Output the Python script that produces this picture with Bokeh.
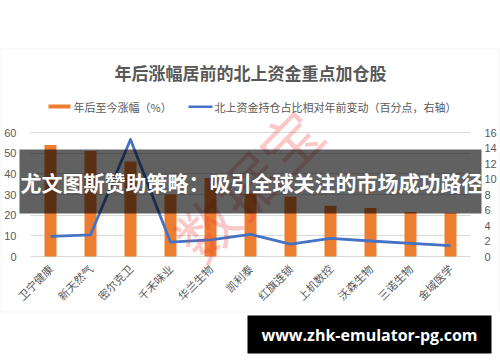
import math

from bokeh.embed import file_html
from bokeh.models import (BoxAnnotation, CategoricalAxis, ColumnDataSource, FactorRange,
                          FixedTicker, Grid, Label, LinearAxis, Range1d)
from bokeh.plotting import figure
from bokeh.resources import INLINE

# --- data -------------------------------------------------------------------
categories = ["卫宁健康", "新天然气", "密尔克卫", "千禾味业", "华兰生物", "凯利泰",
              "红旗连锁", "上机数控", "沃森生物", "三诺生物", "金域医学"]
gain_pct = [54, 51, 46, 30, 38, 30.5, 29, 24.5, 23.5, 21.5, 21]          # 年后至今涨幅（%）
holding_change = [2.6, 2.8, 15.1, 1.85, 2.15, 2.85, 1.6, 2.35, 2.0, 1.7, 1.4]  # 百分点，右轴
left_ticks = [0, 10, 20, 30, 40, 50, 60]
right_ticks = [0, 2, 4, 6, 8, 10, 12, 14, 16]

title_text = "年后涨幅居前的北上资金重点加仓股"
legend_bar = "年后至今涨幅（%）"
legend_line = "北上资金持仓占比相对年前变动（百分点，右轴）"
banner_text = "尤文图斯赞助策略：吸引全球关注的市场成功路径"
url_text = "www.zhk-emulator-pg.com"
stamp_text = "数据宝"

ORANGE = "#ED7D31"
BLUE = "#4472C4"
GREY_TXT = "#595959"
GRID = "#D9D9D9"
CJK = "Noto Sans CJK SC"

W, H = 500, 362
# plot area on the canvas: x 30..470, y 132 (top) .. 256 (bottom)
PX0, PX1, PY_TOP, PY_BOT = 30, 470, 132, 256

n = len(categories)
cat_px = (PX1 - PX0) / n
pad = PX0 / cat_px                       # categories of padding on each side

left_max, right_max = left_ticks[-1], right_ticks[-1]
lpx = (PY_BOT - PY_TOP) / left_max
rpx = (PY_BOT - PY_TOP) / right_max

src = ColumnDataSource(dict(cat=categories, gain=gain_pct, hold=holding_change))

# the frame fills the whole canvas; axes sit at fixed locations inside it
p = figure(width=W, height=H,
           x_range=FactorRange(factors=categories, range_padding=pad,
                               range_padding_units="absolute"),
           y_range=Range1d(-(H - PY_BOT) / lpx, PY_BOT / lpx),
           output_backend="svg", toolbar_location=None,
           min_border=0, min_border_left=0, min_border_right=0,
           min_border_top=0, min_border_bottom=0)
p.extra_y_ranges = {"right": Range1d(-(H - PY_BOT) / rpx, PY_BOT / rpx)}
p.outline_line_color = None
p.background_fill_color = "white"
p.border_fill_color = "white"
p.axis.visible = False
p.grid.visible = False

# gridlines, limited to the plot area
grid = Grid(dimension=1, ticker=FixedTicker(ticks=left_ticks),
            grid_line_color=GRID, grid_line_width=1)
if "cross_bounds" in Grid.properties():
    grid.cross_bounds = (0, n)
    p.add_layout(grid)
else:
    p.segment(x0=[0] * len(left_ticks), x1=[n] * len(left_ticks),
              y0=left_ticks, y1=left_ticks, line_color=GRID, line_width=1)

p.vbar(x="cat", top="gain", width=0.3, source=src, fill_color=ORANGE, line_color=None)
p.line(x="cat", y="hold", source=src, y_range_name="right",
       line_color=BLUE, line_width=2.8, line_join="round")

# axes
ya = LinearAxis(ticker=FixedTicker(ticks=left_ticks), fixed_location=0)
ra = LinearAxis(y_range_name="right", ticker=FixedTicker(ticks=right_ticks),
                fixed_location=n)
xa = CategoricalAxis(fixed_location=0)
p.add_layout(ya, "left")
p.add_layout(ra, "right")
p.add_layout(xa, "below")
for ax in (ya, ra):
    ax.axis_line_color = None
    ax.major_tick_line_color = None
    ax.minor_tick_line_color = None
    ax.major_label_text_color = GREY_TXT
    ax.major_label_text_font = "Liberation Sans"
    ax.major_label_text_font_size = "11px"
    ax.major_label_standoff = 8

xa.axis_line_color = None
xa.major_tick_line_color = None
xa.minor_tick_line_color = None
xa.major_label_orientation = math.pi / 4
xa.major_label_text_color = GREY_TXT
xa.major_label_text_font = CJK
xa.major_label_text_font_size = "11px"
xa.major_label_standoff = 4


def sy(y):
    return H - y


def box(l, t, r, b, **kw):
    p.add_layout(BoxAnnotation(left=l, right=r, top=sy(t), bottom=sy(b),
                               left_units="screen", right_units="screen",
                               top_units="screen", bottom_units="screen", **kw))


def label(x, y, text, **kw):
    p.add_layout(Label(x=x, y=sy(y), x_units="screen", y_units="screen",
                       text=text, **kw))


# chart border
box(0.5, 48.5, 498.5, 311.5, fill_color=None, fill_alpha=0,
    line_color=GRID, line_width=1)

# title
label(250, 72, title_text, text_align="center", text_baseline="middle",
      text_font=CJK, text_font_style="bold", text_font_size="17px",
      text_color=GREY_TXT)

# legend
box(48, 104, 70, 108, fill_color=ORANGE, fill_alpha=1, line_color=None)
label(73, 106, legend_bar, text_baseline="middle", text_font=CJK,
      text_font_size="11px", text_color=GREY_TXT)
box(188, 105, 212, 107.5, fill_color=BLUE, fill_alpha=1, line_color=None)
label(214, 106, legend_line, text_baseline="middle", text_font=CJK,
      text_font_size="11px", text_color=GREY_TXT)

# stamp
label(246, 183, stamp_text, angle=0.8, text_align="center", text_baseline="middle",
      text_font=CJK, text_font_size="60px", text_color="#EE3B3B", text_alpha=0.28)

# banner
box(19, 149, 481, 213, fill_color="black", fill_alpha=0.62, line_color=None)
label(251, 181, banner_text, text_align="center", text_baseline="middle",
      text_font=CJK, text_font_style="bold", text_font_size="21px",
      text_color="white")

# url tag
box(247, 315, 491, 353, fill_color="black", fill_alpha=1, line_color=None)
label(369, 334, url_text, text_align="center", text_baseline="middle",
      text_font="Open Sans", text_font_style="bold", text_font_size="16px",
      text_color="white")

open("out.html", "w").write(file_html(p, INLINE))
